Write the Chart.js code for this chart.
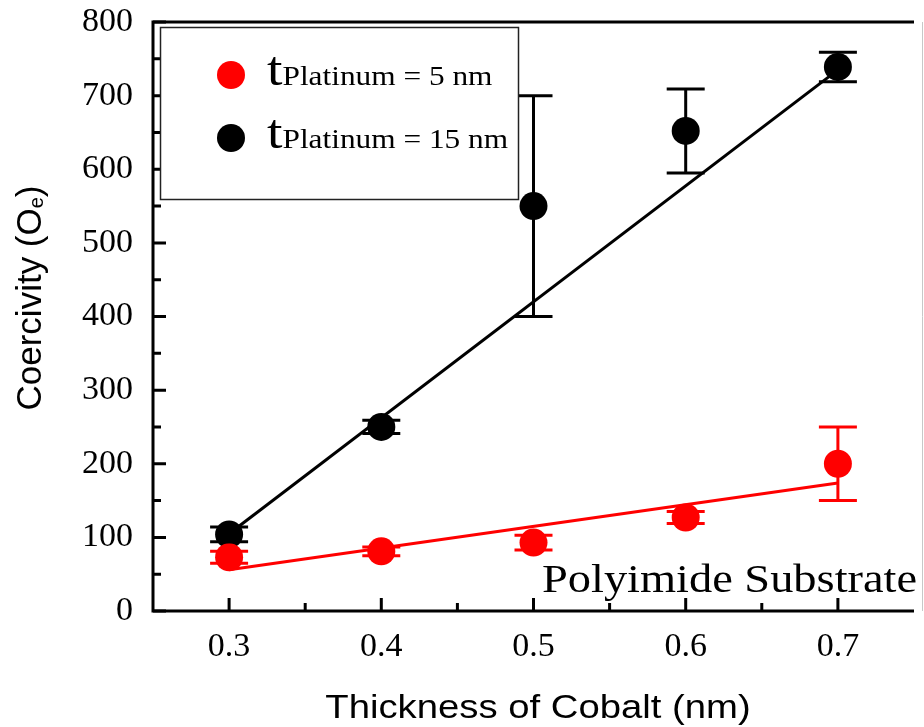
<!DOCTYPE html>
<html>
<head>
<meta charset="utf-8">
<script src="https://cdn.jsdelivr.net/npm/chart.js@4/dist/chart.umd.min.js"></script>
<style>
  html, body { margin: 0; padding: 0; background: #fff; overflow: hidden; }
  #wrap { width: 928px; height: 727px; }
</style>
</head>
<body>
<div id="wrap"><canvas id="chart" width="928" height="727"></canvas></div>
<script>
// data
const thickness = [0.3, 0.4, 0.5, 0.6, 0.7];
const pt5Values = [73, 81, 93, 127, 200];
const pt5Errors = [8, 6, 10, 8, 50];
const pt15Values = [104, 250, 550, 652, 739];
const pt15Errors = [10, 9, 150, 57, 20];
const fitX = [0.3, 0.7];
const pt5Fit = [56, 174];
const pt15Fit = [105, 735];

const xTicks = [0.3, 0.4, 0.5, 0.6, 0.7];
const xMinor = [0.35, 0.45, 0.55, 0.65];
const yTicks = [0, 100, 200, 300, 400, 500, 600, 700, 800];
const yMinor = [50, 150, 250, 350, 450, 550, 650, 750];

const seriesNames = ["Platinum = 5 nm", "Platinum = 15 nm"];
const seriesColors = ["#ff0000", "#000000"];
const xTitle = "Thickness of Cobalt (nm)";
const yTitle = ["Coercivity (O", "e", ")"];
const note = "Polyimide Substrate";

const SERIF = "'Liberation Serif', 'Times New Roman', serif";
const SANS = "'Liberation Sans', Arial, sans-serif";
const SX = 1.16; // the picture is a little wide

function pts(xs, ys) { return xs.map((x, i) => ({ x, y: ys[i] })); }

function stretchText(ctx, txt, x, y, font, align) {
  ctx.save();
  ctx.font = font;
  const w = ctx.measureText(txt).width * SX;
  let left = x;
  if (align === "center") left = x - w / 2;
  if (align === "right") left = x - w;
  ctx.translate(left, y);
  ctx.scale(SX, 1);
  ctx.textAlign = "left";
  ctx.fillText(txt, 0, 0);
  ctx.restore();
  return w;
}

const decor = {
  id: "decor",
  beforeDatasetsDraw(chart) {
    const { ctx, chartArea: a, scales: { x, y } } = chart;
    ctx.save();
    ctx.strokeStyle = "#000";
    ctx.lineWidth = 3;
    ctx.beginPath();
    xTicks.forEach(v => { const px = x.getPixelForValue(v); ctx.moveTo(px, a.bottom); ctx.lineTo(px, a.bottom - 13); });
    xMinor.forEach(v => { const px = x.getPixelForValue(v); ctx.moveTo(px, a.bottom); ctx.lineTo(px, a.bottom - 8); });
    yTicks.forEach(v => { const py = y.getPixelForValue(v); ctx.moveTo(a.left, py); ctx.lineTo(a.left + 13, py); });
    yMinor.forEach(v => { const py = y.getPixelForValue(v); ctx.moveTo(a.left, py); ctx.lineTo(a.left + 8, py); });
    ctx.stroke();
    ctx.restore();
  },
  afterDatasetsDraw(chart) {
    const { ctx, chartArea: a, scales: { x, y } } = chart;
    ctx.save();
    // error bars
    [[pt5Values, pt5Errors], [pt15Values, pt15Errors]].forEach(([vals, errs], s) => {
      ctx.strokeStyle = seriesColors[s];
      ctx.lineWidth = 3;
      ctx.beginPath();
      thickness.forEach((t, i) => {
        const px = x.getPixelForValue(t);
        const top = y.getPixelForValue(vals[i] + errs[i]);
        const bot = y.getPixelForValue(vals[i] - errs[i]);
        ctx.moveTo(px, top); ctx.lineTo(px, bot);
        ctx.moveTo(px - 19, top); ctx.lineTo(px + 19, top);
        ctx.moveTo(px - 19, bot); ctx.lineTo(px + 19, bot);
      });
      ctx.stroke();
    });
    // frame
    ctx.strokeStyle = "#000";
    ctx.lineWidth = 3;
    ctx.beginPath();
    ctx.moveTo(a.right, a.top); ctx.lineTo(a.left, a.top);
    ctx.lineTo(a.left, a.bottom); ctx.lineTo(a.right, a.bottom);
    ctx.stroke();
    ctx.strokeStyle = "#c8c8c8";
    ctx.lineWidth = 1;
    ctx.beginPath();
    ctx.moveTo(922.5, a.top); ctx.lineTo(922.5, a.bottom);
    ctx.stroke();
    ctx.restore();
  },
  afterDraw(chart) {
    const { ctx, chartArea: a } = chart;
    ctx.save();
    ctx.fillStyle = "#000";
    ctx.textBaseline = "alphabetic";
    // note
    stretchText(ctx, note, 542, 592, "40px " + SERIF, "left");
    // x title
    stretchText(ctx, xTitle, (a.left + 923) / 2, 718, "33px " + SANS, "center");
    // y title, rotated, with subscript e
    ctx.translate(41, 298);
    ctx.rotate(-Math.PI / 2);
    ctx.font = "35px " + SANS;
    const w0 = ctx.measureText(yTitle[0]).width;
    const w2 = ctx.measureText(yTitle[2]).width;
    ctx.font = "20px " + SANS;
    const w1 = ctx.measureText(yTitle[1]).width;
    let cx = -(w0 + w1 + w2) / 2;
    ctx.font = "35px " + SANS;
    ctx.fillText(yTitle[0], cx, 0); cx += w0;
    ctx.font = "20px " + SANS;
    ctx.fillText(yTitle[1], cx, 2); cx += w1;
    ctx.font = "35px " + SANS;
    ctx.fillText(yTitle[2], cx, 0);
    ctx.restore();

    // legend
    ctx.save();
    ctx.fillStyle = "#fff";
    ctx.fillRect(160, 27, 359, 173);
    ctx.strokeStyle = "#222";
    ctx.lineWidth = 1.5;
    ctx.strokeRect(160.5, 27.5, 358, 172);
    const rows = [75, 138];
    seriesNames.forEach((name, i) => {
      ctx.fillStyle = seriesColors[i];
      ctx.beginPath();
      ctx.arc(231, rows[i], 14, 0, Math.PI * 2);
      ctx.fill();
      ctx.fillStyle = "#000";
      const base = rows[i] + 10;
      const wt = stretchText(ctx, "t", 267, base, "48px " + SERIF, "left");
      stretchText(ctx, name, 267 + wt, base, "27px " + SERIF, "left");
    });
    ctx.restore();
  }
};

new Chart(document.getElementById("chart"), {
  type: "scatter",
  data: {
    datasets: [
      { label: seriesNames[0], data: pts(thickness, pt5Values), backgroundColor: seriesColors[0], borderColor: seriesColors[0], pointRadius: 14, pointHoverRadius: 14, pointBorderWidth: 0, order: 0 },
      { label: seriesNames[1], data: pts(thickness, pt15Values), backgroundColor: seriesColors[1], borderColor: seriesColors[1], pointRadius: 14, pointHoverRadius: 14, pointBorderWidth: 0, order: 0 },
      { label: "fit 5 nm", data: pts(fitX, pt5Fit), showLine: true, borderColor: seriesColors[0], borderWidth: 3, pointRadius: 0, order: 1 },
      { label: "fit 15 nm", data: pts(fitX, pt15Fit), showLine: true, borderColor: seriesColors[1], borderWidth: 3, pointRadius: 0, order: 1 }
    ]
  },
  options: {
    responsive: false,
    animation: false,
    layout: { padding: { left: 0, top: 22, right: 0, bottom: 0 } },
    plugins: { legend: { display: false }, tooltip: { enabled: false } },
    scales: {
      x: {
        type: "linear", min: 0.25, max: 0.75,
        afterBuildTicks: s => { s.ticks = xTicks.map(v => ({ value: v })); },
        afterFit: s => { s.height = 116; s.paddingLeft = 0; s.paddingRight = 0; },
        grid: { display: false, drawTicks: false },
        border: { display: false },
        ticks: { padding: 16, color: "#000", font: { family: SERIF, size: 34 }, callback: v => v.toFixed(1) }
      },
      y: {
        min: 0, max: 800,
        afterBuildTicks: s => { s.ticks = yTicks.map(v => ({ value: v })); },
        afterFit: s => { s.width = 153; s.paddingTop = 0; s.paddingBottom = 0; },
        grid: { display: false, drawTicks: false },
        border: { display: false },
        ticks: { padding: 20, color: "#000", font: { family: SERIF, size: 34 } }
      }
    }
  },
  plugins: [decor]
});
</script>
</body>
</html>
